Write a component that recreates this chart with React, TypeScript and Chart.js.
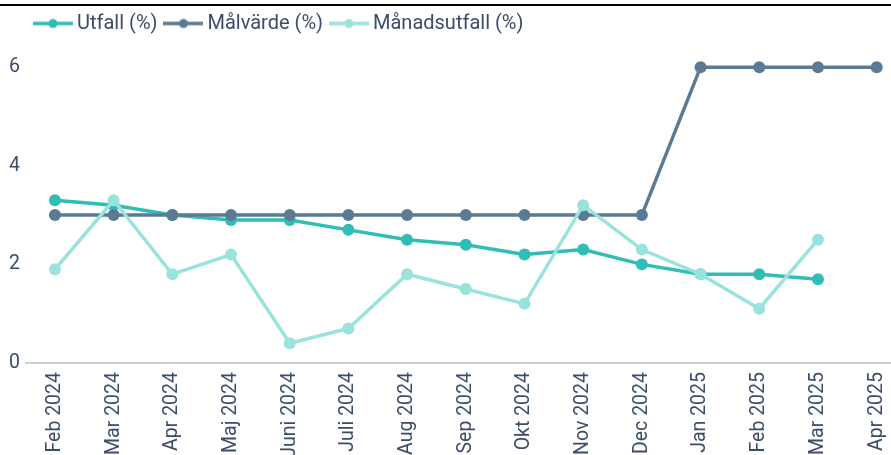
import React, { useEffect, useRef } from "react";
import { Chart, registerables } from "chart.js";

Chart.register(...registerables);

const categories = [
  "Feb 2024", "Mar 2024", "Apr 2024", "Maj 2024", "Juni 2024", "Juli 2024", "Aug 2024",
  "Sep 2024", "Okt 2024", "Nov 2024", "Dec 2024", "Jan 2025", "Feb 2025", "Mar 2025", "Apr 2025",
];
const utfall = [3.3, 3.2, 3.0, 2.9, 2.9, 2.7, 2.5, 2.4, 2.2, 2.3, 2.0, 1.8, 1.8, 1.7, null];
const malvarde = [3, 3, 3, 3, 3, 3, 3, 3, 3, 3, 3, 6, 6, 6, 6];
const manadsutfall = [1.9, 3.3, 1.8, 2.2, 0.4, 0.7, 1.8, 1.5, 1.2, 3.2, 2.3, 1.8, 1.1, 2.5, null];
const seriesNames = ["Utfall (%)", "Målvärde (%)", "Månadsutfall (%)"];
const yTicks = [0, 2, 4, 6];

const COLORS = ["#30bdb5", "#5b7a94", "#98e3dc"];
const TEXT = "#3b4d69";
const FONT = 19.5;
const LEGEND_FONT = 20;

function makeMarker(color: string) {
  const c = document.createElement("canvas");
  c.width = 40;
  c.height = 12;
  const ctx = c.getContext("2d")!;
  ctx.strokeStyle = color;
  ctx.lineWidth = 3.5;
  ctx.beginPath();
  ctx.moveTo(0, 6);
  ctx.lineTo(40, 6);
  ctx.stroke();
  ctx.fillStyle = color;
  ctx.beginPath();
  ctx.arc(20, 6, 4.5, 0, Math.PI * 2);
  ctx.fill();
  return c;
}

const shiftLegend = {
  id: "shiftLegend",
  afterLayout(chart: any) {
    if (chart.legend) {
      chart.legend.left += 27;
      chart.legend.right += 27;
      chart.legend.top += 2.5;
      chart.legend.bottom += 2.5;
    }
  },
};

export default function App() {
  const ref = useRef<HTMLCanvasElement>(null);
  useEffect(() => {
    document.body.style.margin = "0";
    const markers = COLORS.map(makeMarker);
    const mk = (label: string, data: (number | null)[], i: number, order: number) => ({
      label,
      data,
      borderColor: COLORS[i],
      backgroundColor: COLORS[i],
      pointBackgroundColor: COLORS[i],
      pointBorderColor: COLORS[i],
      borderWidth: 3.5,
      pointRadius: 6,
      pointBorderWidth: 0,
      tension: 0,
      spanGaps: false,
      order,
    });
    const chart = new Chart(ref.current!, {
      type: "line",
      data: {
        labels: categories,
        datasets: [
          mk(seriesNames[0], utfall, 0, 2),
          mk(seriesNames[1], malvarde, 1, 1),
          mk(seriesNames[2], manadsutfall, 2, 0),
        ],
      },
      plugins: [shiftLegend],
      options: {
        responsive: false,
        animation: false,
        layout: { padding: { left: 0, right: 14, top: -1, bottom: 0 } },
        font: { family: "Roboto", size: FONT },
        plugins: {
          tooltip: { enabled: false },
          legend: {
            display: true,
            position: "top",
            align: "start",
            labels: {
              usePointStyle: true,
              pointStyleWidth: 28,
              padding: 12,
              color: TEXT,
              font: { family: "Roboto", size: LEGEND_FONT },
              generateLabels: () =>
                seriesNames.map((name, i) => ({
                  text: name,
                  pointStyle: markers[i],
                  fillStyle: COLORS[i],
                  strokeStyle: "rgba(0,0,0,0)",
                  lineWidth: 0,
                  fontColor: TEXT,
                  hidden: false,
                  datasetIndex: i,
                })),
            },
          },
        },
        scales: {
          x: {
            type: "category",
            offset: true,
            grid: { display: false, drawTicks: false },
            border: { display: true, color: "#c6d0dc", width: 2 },
            ticks: {
              color: TEXT,
              font: { family: "Roboto", size: FONT },
              minRotation: 90,
              maxRotation: 90,
              autoSkip: false,
              padding: 9,
            },
            afterFit: (s: any) => {
              s.height = 92;
            },
          },
          y: {
            min: 0,
            max: 6.53,
            grid: { display: false, drawTicks: false },
            border: { display: false },
            afterFit: (s: any) => {
              s.width = 25.6;
            },
            afterBuildTicks: (s: any) => {
              s.ticks = yTicks.map((v) => ({ value: v }));
            },
            ticks: {
              color: TEXT,
              font: { family: "Roboto", size: FONT },
              padding: 5.6,
            },
          },
        },
      },
    });
    return () => chart.destroy();
  }, []);
  return (
    <div style={{ position: "relative", width: 891, height: 455, overflow: "hidden", background: "#fff" }}>
      <canvas ref={ref} width={920} height={455} style={{ position: "absolute", left: 0, top: 0, width: 920, height: 455 }} />
      <div style={{ position: "absolute", left: 0, top: 4, width: 891, height: 2, background: "#000" }} />
    </div>
  );
}
